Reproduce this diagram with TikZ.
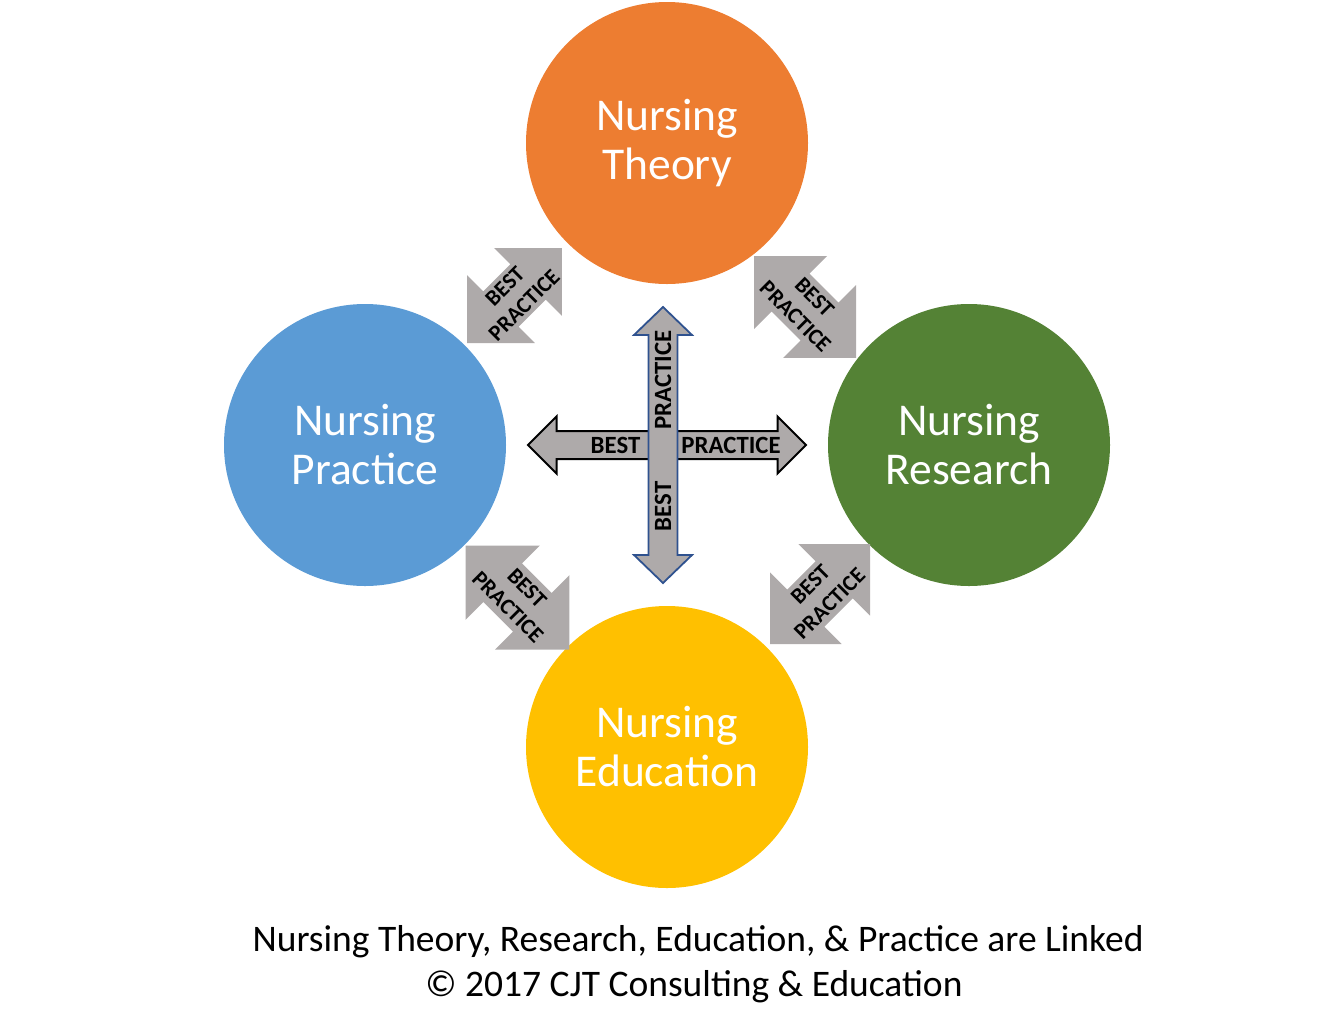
\documentclass[tikz,border=0pt]{standalone}
\usepackage{fontspec}
\setmainfont{Carlito}
\definecolor{orangeC}{HTML}{ED7D31}
\definecolor{blueC}{HTML}{5B9BD5}
\definecolor{greenC}{HTML}{548235}
\definecolor{yellowC}{HTML}{FFC000}
\definecolor{grayC}{HTML}{AEAAAA}
\definecolor{navyC}{HTML}{2F528F}
\begin{document}
\begin{tikzpicture}[x=1pt,y=-1pt,
  circ/.style={circle, minimum size=282pt, inner sep=0pt, text=white,
    font=\fontsize{45.5}{49}\selectfont, align=center},
  diagtext/.style={font=\fontsize{22.5}{27}\selectfont\bfseries, align=center, inner sep=0pt},
  crosstext/.style={font=\fontsize{24.8}{28}\selectfont\bfseries, inner sep=0pt},
  diagarrow/.style={fill=grayC, draw=none},
  caption/.style={font=\fontsize{37.5}{45}\selectfont, inner sep=0pt, anchor=base}
]
\useasboundingbox (0,0) rectangle (1334,1029);

% circles
\node[circ, fill=orangeC] (theory)    at (667,143) {Nursing\\Theory};
\node[circ, fill=blueC]   (practice)  at (365,445) {Nursing\\Practice};
\node[circ, fill=greenC]  (research)  at (969,445) {Nursing\\Research};
\node[circ, fill=yellowC] (education) at (667,747) {Nursing\\Education};

% diagonal double arrows: (H, D, s) scaled from box size
\foreach \cx/\cy/\ang/\b/\nm in {514.5/295.5/45/95/tl, 805/307/-45/102/tr, 517.5/597.5/-45/104/bl, 820/594/45/100/br}{
  \pgfmathsetmacro{\H}{0.707*\b}
  \pgfmathsetmacro{\D}{0.506*\b}
  \pgfmathsetmacro{\S}{0.263*\b}
  \pgfmathsetmacro{\B}{\H-\D}
  \begin{scope}[shift={(\cx,\cy)}, rotate=\ang]
    \fill[diagarrow] (\H,0) -- (\B,\D) -- (\B,\S) -- (-\B,\S) -- (-\B,\D) -- (-\H,0)
      -- (-\B,-\D) -- (-\B,-\S) -- (\B,-\S) -- (\B,-\D) -- cycle;
  \end{scope}
  \node[diagtext, rotate=\ang] (d\nm) at (\cx,\cy) {BEST\\PRACTICE};
}

% central cross: horizontal arrow
\begin{scope}[shift={(667,445)}]
  \draw[fill=grayC, draw=black, line width=2pt, line join=miter]
    (139,0) -- (110.5,28.5) -- (110.5,14) -- (-110.5,14) -- (-110.5,28.5) -- (-139,0)
    -- (-110.5,-28.5) -- (-110.5,-14) -- (110.5,-14) -- (110.5,-28.5) -- cycle;
\end{scope}
% vertical arrow
\begin{scope}[shift={(663,445)}]
  \draw[fill=grayC, draw=navyC, line width=1.8pt, line join=miter]
    (0,-138) -- (29,-110) -- (14.5,-110) -- (14.5,110) -- (29,110) -- (0,138)
    -- (-29,110) -- (-14.5,110) -- (-14.5,-110) -- (-29,-110) -- cycle;
\end{scope}
\node[crosstext] (hbest) at (615.5,445) {BEST};
\node[crosstext] (hprac) at (731,445) {PRACTICE};
\node[crosstext, rotate=90] (vprac) at (663,380) {PRACTICE};
\node[crosstext, rotate=90] (vbest) at (663,506.5) {BEST};

% caption
\node[caption] (cap1) at (698,951) {Nursing Theory, Research, Education, \& Practice are Linked};
\node[caption] (cap2) at (694,996) {© 2017 CJT Consulting \& Education};
\end{tikzpicture}
\end{document}
